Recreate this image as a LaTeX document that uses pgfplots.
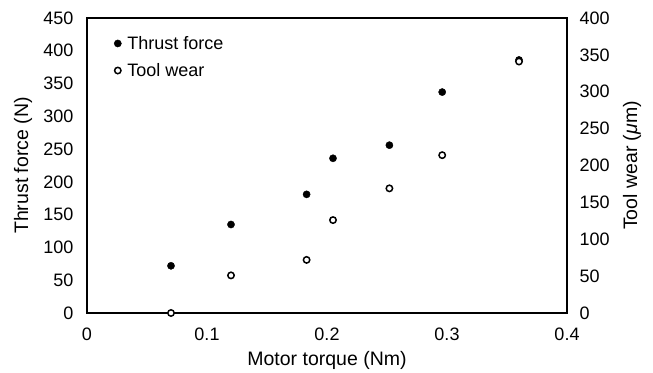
\documentclass[border=0pt]{standalone}
\usepackage{fontspec}
\setmainfont{Liberation Sans}
\usepackage{pgfplots}
\pgfplotsset{compat=1.18}
\pgfplotstableread{
x y
0.070 72
0.120 135
0.183 181
0.205 236
0.252 256
0.296 337
0.360 386
}\thrust
\pgfplotstableread{
x y
0.070 0
0.120 51
0.183 72
0.205 126
0.252 169
0.296 214
0.360 341
}\wear
\begin{document}
\begin{tikzpicture}
\useasboundingbox (-87pt,-59pt) rectangle (566pt,313pt);
\begin{axis}[
  at={(0,0)}, anchor=south west,
  scale only axis, width=480pt, height=295pt,
  xmin=0, xmax=0.4, ymin=0, ymax=450,
  xtick={0,0.1,0.2,0.3,0.4}, ytick={0,50,...,450},
  scaled x ticks=false,
  xtick pos=bottom, ytick pos=left,
  major tick length=0pt,
  axis line style={line width=1.4pt},
  /pgf/number format/assume math mode=true,
  xticklabel={\fontsize{18}{20}\selectfont\pgfmathprintnumber{\tick}},
  yticklabel={\fontsize{18}{20}\selectfont\pgfmathprintnumber{\tick}},
  tick label style={font=\fontsize{18}{20}\selectfont},
  yticklabel style={xshift=-10pt},
  xticklabel style={yshift=-11pt},
  xlabel={Motor torque (Nm)}, ylabel={Thrust force (N)},
  every axis x label/.style={at={(rel axis cs:0.5,0)}, anchor=center, yshift=-47pt, font=\fontsize{19.5}{23}\selectfont},
  every axis y label/.style={at={(rel axis cs:0,0.5)}, anchor=center, rotate=90, yshift=64pt, font=\fontsize{19.5}{23}\selectfont},
  legend image code/.code={\draw[mark repeat=2,mark phase=2] plot coordinates {(0pt,0pt)(5pt,0pt)(10pt,0pt)};},
  legend style={at={(rel axis cs:0,1)}, anchor=north west, xshift=27pt, yshift=-18pt,
    draw=none, fill=none, inner sep=0pt, row sep=12.5pt,
    font=\fontsize{18}{20}\selectfont,
    nodes={inner xsep=6pt, inner ysep=0pt}},
  legend cell align=left,
]
\addplot[only marks, mark=*, mark size=3.6pt, black] table[x=x,y=y]{\thrust};
\addlegendentry{Thrust force}
\addlegendimage{only marks, mark=*, mark size=3.2pt, mark options={fill=white, draw=black, line width=1.5pt}}
\addlegendentry{Tool wear}
\end{axis}
\begin{axis}[
  at={(0,0)}, anchor=south west,
  scale only axis, width=480pt, height=295pt,
  xmin=0, xmax=0.4, ymin=0, ymax=400,
  axis y line*=right, axis x line=none,
  ytick={0,50,...,400},
  major tick length=0pt,
  axis line style={line width=1.4pt},
  /pgf/number format/assume math mode=true,
  yticklabel={\fontsize{18}{20}\selectfont\pgfmathprintnumber{\tick}},
  tick label style={font=\fontsize{18}{20}\selectfont},
  yticklabel style={xshift=9pt},
  ylabel={Tool wear (\textit{μ}m)},
  every axis y label/.style={at={(rel axis cs:1,0.5)}, anchor=center, rotate=90, yshift=-65pt, font=\fontsize{19.5}{23}\selectfont},
]
\addplot[only marks, mark=*, mark size=3.2pt, mark options={fill=white, draw=black, line width=1.5pt}] table[x=x,y=y]{\wear};
\end{axis}
\end{tikzpicture}
\end{document}
